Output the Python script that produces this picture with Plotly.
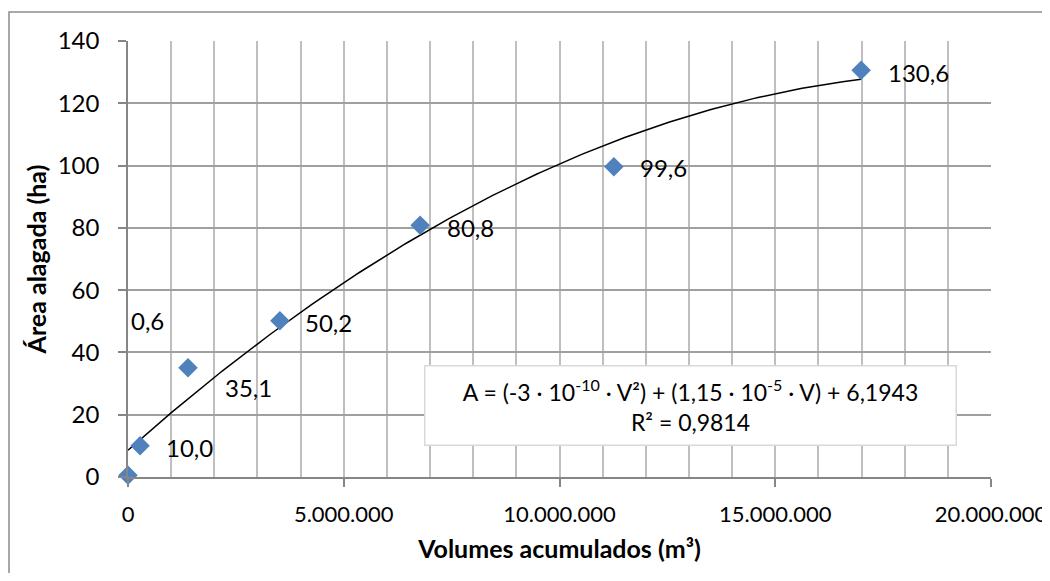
import numpy as np
import plotly.graph_objects as go

volumes = [0, 280000, 1390000, 3520000, 6770000, 11260000, 16990000]
areas = [0.6, 10.0, 35.1, 50.2, 80.8, 99.6, 130.6]
labels = ["0,6", "10,0", "35,1", "50,2", "80,8", "99,6", "130,6"]
x_ticks = [0, 5000000, 10000000, 15000000, 20000000]
x_tick_text = ["0", "5.000.000", "10.000.000", "15.000.000", "20.000.000"]
equation = "A = (-3 · 10<sup>-10</sup> · V²) + (1,15 · 10<sup>-5</sup> · V) + 6,1943<br>R² = 0,9814"

FONT = "Lato"
coef = np.polyfit(volumes, areas, 2)
xs = np.linspace(0, max(volumes), 200)
ys = np.polyval(coef, xs)

fig = go.Figure()
fig.add_trace(go.Scatter(x=xs, y=ys, mode="lines", line=dict(color="black", width=1.5),
                         hoverinfo="skip", showlegend=False, cliponaxis=False))
fig.add_trace(go.Scatter(x=volumes, y=areas, mode="markers", cliponaxis=False,
                         marker=dict(symbol="diamond", size=15, color="#4F81BD"),
                         showlegend=False))

# label offsets (pixels) relative to each point
offsets = [(19, 155), (49, -2), (61, -20), (49, -2), (50, -2), (50, -1), (57, -2)]
for x, y, t, (dx, dy) in zip(volumes, areas, labels, offsets):
    fig.add_annotation(x=x, y=y, text=t, showarrow=False, xshift=dx, yshift=dy,
                       font=dict(family=FONT, size=24, color="black"))

fig.add_annotation(xref="paper", yref="paper", x=0.652, y=0.165, text=equation,
                   xanchor="center", yanchor="middle",
                   showarrow=False, align="center", bgcolor="white",
                   bordercolor="#d9d9d9", borderwidth=1.5, width=528, height=76,
                   font=dict(family=FONT, size=23, color="black"))

# outer chart border (partly cropped)
fig.add_shape(type="rect", xref="paper", yref="paper", x0=-0.1379, x1=2, y0=-2, y1=1.0665,
              line=dict(color="#8c8c8c", width=1.5), layer="below")

# the page adds an 8px body margin, so the figure is smaller to fit the window
fig.update_layout(
    width=1042, height=565,
    margin=dict(l=120, r=59, t=33, b=96),
    paper_bgcolor="white", plot_bgcolor="white",
    font=dict(family=FONT, size=24, color="black"),
    xaxis=dict(range=[0, 20000000], tickvals=x_ticks, ticktext=x_tick_text,
               automargin=False, ticklabeloverflow="allow",
               showgrid=True, gridcolor="#bfbfbf", gridwidth=1.5,
               minor=dict(dtick=1000000, showgrid=True, gridcolor="#bfbfbf", gridwidth=1.5),
               ticks="outside", ticklen=8, tickcolor="#868686", tickwidth=1.5,
               ticklabelstandoff=9,
               tickfont=dict(family=FONT, size=22),
               showline=True, linecolor="#868686", linewidth=1.5, zeroline=False,
               title=dict(text="<b>Volumes acumulados (m³)</b>", standoff=14,
                          font=dict(family=FONT, size=25))),
    yaxis=dict(range=[0, 140], dtick=20, automargin=False,
               showgrid=True, gridcolor="#a0a0a0", gridwidth=1.5,
               ticks="outside", ticklen=8, tickcolor="#868686", tickwidth=1.5,
               ticklabelstandoff=14,
               tickfont=dict(family=FONT, size=24),
               showline=True, linecolor="#868686", linewidth=1.5, zeroline=False,
               title=dict(text="<b>Área alagada (ha)</b>", standoff=4,
                          font=dict(family=FONT, size=25))),
)
fig.write_html("out.html")
